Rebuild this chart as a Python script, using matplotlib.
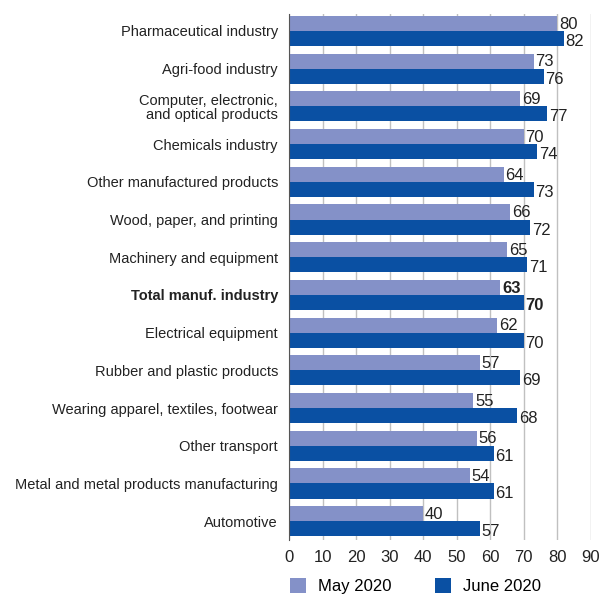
import matplotlib.pyplot as plt
import numpy as np

plt.rcParams['font.family'] = ['Liberation Sans', 'DejaVu Sans']

# Données (de haut en bas)
categories = ["Pharmaceutical industry", "Agri-food industry",
              "Computer, electronic,\nand optical products", "Chemicals industry",
              "Other manufactured products", "Wood, paper, and printing",
              "Machinery and equipment", "Total manuf. industry",
              "Electrical equipment", "Rubber and plastic products",
              "Wearing apparel, textiles, footwear", "Other transport",
              "Metal and metal products manufacturing", "Automotive"]
may_2020 = [80, 73, 69, 70, 64, 66, 65, 63, 62, 57, 55, 56, 54, 40]
june_2020 = [82, 76, 77, 74, 73, 72, 71, 70, 70, 69, 68, 61, 61, 57]
x_ticks = [0, 10, 20, 30, 40, 50, 60, 70, 80, 90]

col_may = "#8491c8"
col_june = "#0a50a3"

fig = plt.figure(figsize=(6.06, 5.97), dpi=100)
ax = fig.add_axes([0.477, 0.0955, 0.498, 0.881])

n = len(categories)
y = np.arange(n)[::-1].astype(float)
h = 0.40
ax.barh(y + h / 2, may_2020, height=h, color=col_may, label="May 2020", zorder=3)
ax.barh(y - h / 2, june_2020, height=h, color=col_june, label="June 2020", zorder=3)

total_idx = categories.index("Total manuf. industry")
for i in range(n):
    w = 'bold' if i == total_idx else 'normal'
    ax.text(may_2020[i] + 0.5, y[i] + h / 2 - 0.02, str(may_2020[i]), va='center', ha='left',
            fontsize=12, color='#222222', fontweight=w, zorder=4)
    ax.text(june_2020[i] + 0.5, y[i] - h / 2 - 0.08, str(june_2020[i]), va='center', ha='left',
            fontsize=12, color='#222222', fontweight=w, zorder=4)

ax.set_yticks(y)
ax.set_yticklabels(categories, fontsize=10.5, color='#222222', linespacing=1.0)
for i, lbl in enumerate(ax.get_yticklabels()):
    if i == total_idx:
        lbl.set_fontweight('bold')
ax.tick_params(axis='y', length=0, pad=8)

ax.set_xlim(0, 90)
ax.set_ylim(-0.5, n - 0.55)
ax.set_xticks(x_ticks)
ax.tick_params(axis='x', labelsize=12, colors='#222222', length=0, pad=7)
ax.grid(axis='x', color='#c0c0c0', linewidth=1.0, zorder=0)

for s in ['top', 'right', 'bottom']:
    ax.spines[s].set_visible(False)
ax.spines['left'].set_color('#555555')
ax.spines['left'].set_zorder(5)

fig.legend(loc='lower left', bbox_to_anchor=(0.453, -0.02), ncol=2, frameon=False,
           fontsize=12, handlelength=1.0, handleheight=1.0, columnspacing=2.6,
           handletextpad=0.7)

fig.savefig("out.png", dpi=100)
